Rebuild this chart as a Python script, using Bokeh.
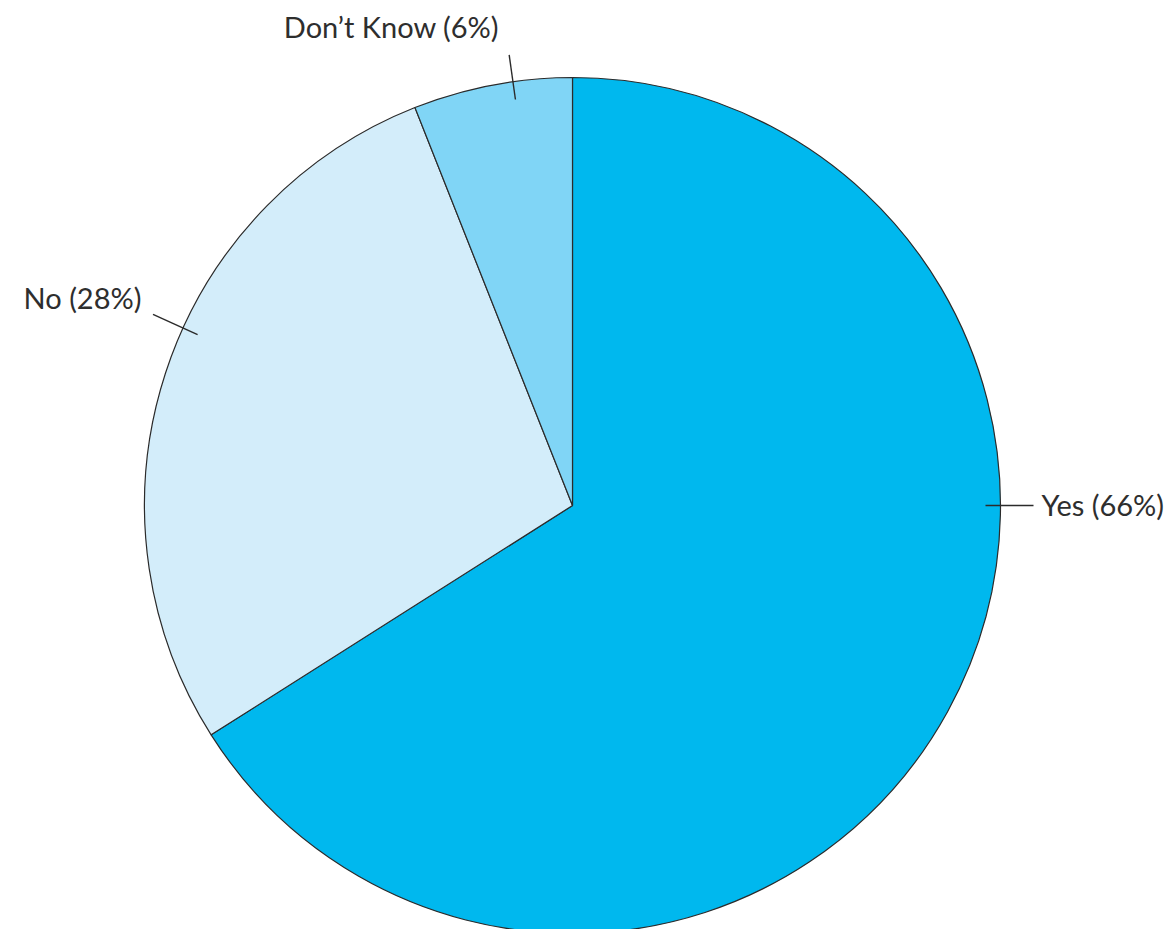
import math
from bokeh.plotting import figure
from bokeh.models import ColumnDataSource
from bokeh.core.properties import value
from bokeh.embed import file_html
from bokeh.resources import INLINE

# Data
categories = ["Yes", "No", "Don’t Know"]
shares = [66, 28, 6]
labels = ["Yes (66%)", "No (28%)", "Don’t Know (6%)"]
colors = ["#00B8EE", "#D3EDFA", "#80D5F6"]

W, H = 1173, 929
cx, cy, R = 572, 424, 428

total = sum(shares)
starts, ends = [], []
cum = 0.0
for s in shares:
    a_hi = math.pi / 2 - 2 * math.pi * cum / total
    cum += s
    a_lo = math.pi / 2 - 2 * math.pi * cum / total
    starts.append(a_lo)
    ends.append(a_hi)

src = ColumnDataSource(dict(cat=categories, start=starts, end=ends, color=colors))

p = figure(width=W, height=H, x_range=(0, W), y_range=(0, H),
           output_backend="svg", toolbar_location=None, min_border=0)
p.axis.visible = False
p.grid.visible = False
p.outline_line_color = None
p.background_fill_color = "white"

p.wedge(x=cx, y=cy, radius=R, start_angle="start", end_angle="end",
        direction="anticlock", fill_color="color", line_color="#2b2b2b",
        line_width=1.2, source=src)

# leader lines (layout angles in degrees, inner/outer radius offsets)
lead_angles = [0.0, 155.5, 98.0]
lead_in = [R - 15, R - 16, R - 18]
lead_out = [R + 33, R + 33, R + 27]
xs, ys = [], []
for a, ri, ro in zip(lead_angles, lead_in, lead_out):
    t = math.radians(a)
    xs.append([cx + ri * math.cos(t), cx + ro * math.cos(t)])
    ys.append([cy + ri * math.sin(t), cy + ro * math.sin(t)])
p.multi_line(xs=xs, ys=ys, line_color="#2b2b2b", line_width=1.4)

# labels
lab_x = [1041, 141, 391]
lab_y = [H - 504, H - 297, H - 26]
aligns = ["left", "right", "center"]
p.text(x=lab_x, y=lab_y, text=labels, text_align=aligns,
       text_baseline="middle", text_font=value("Lato"),
       text_font_size="29px", text_color="#2e2e2e")

open("out.html", "w").write(file_html(p, INLINE))
